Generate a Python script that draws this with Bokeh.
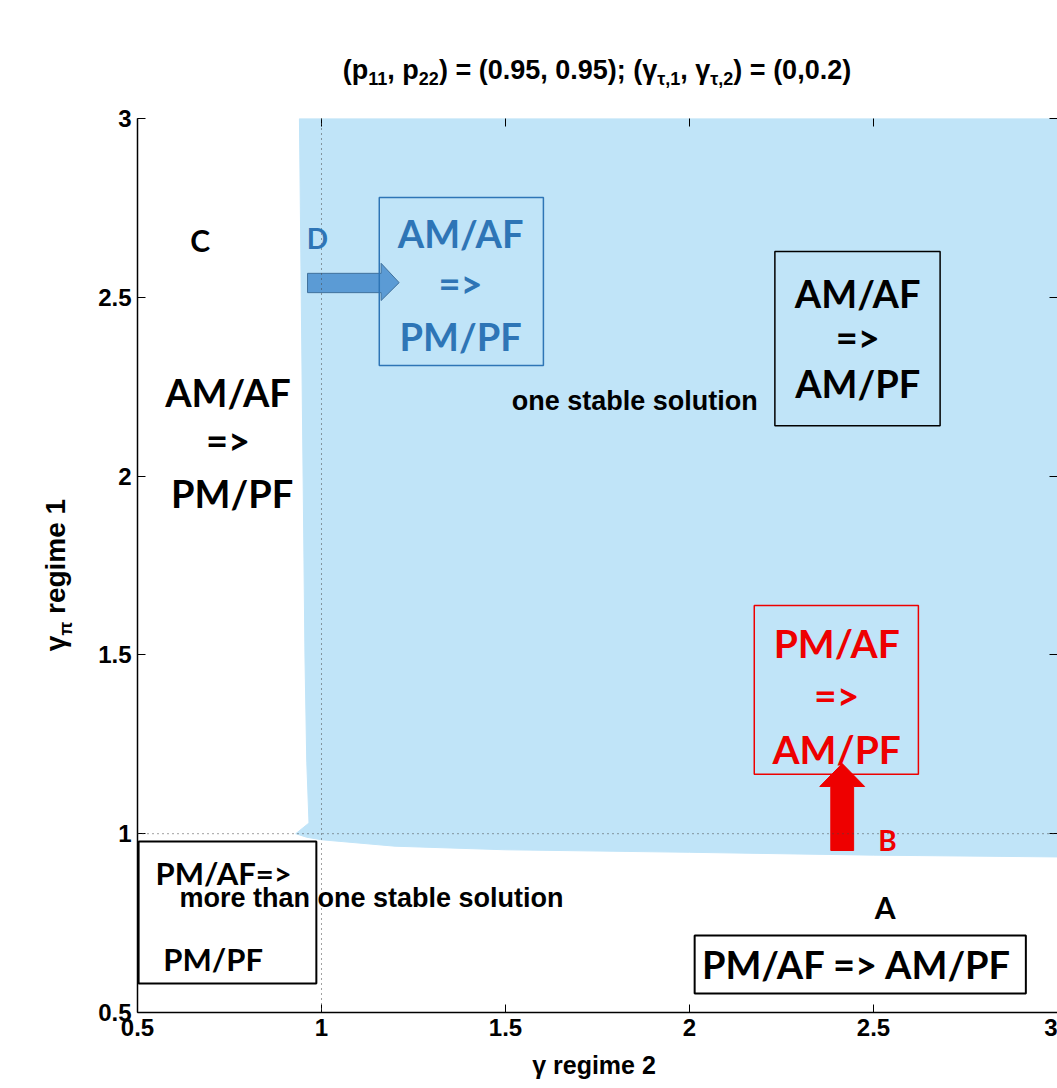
from bokeh.plotting import figure
from bokeh.models import Label, LinearAxis, Span, BoxAnnotation, FixedTicker, Range1d, Div
from bokeh.layouts import column, row
from bokeh.embed import file_html
from bokeh.resources import INLINE

# ---- data ----
tick_values = [0.5, 1.0, 1.5, 2.0, 2.5, 3.0]
tick_labels = ["0.5", "1", "1.5", "2", "2.5", "3"]
# boundary of the "one stable solution" region (gamma regime 2, gamma regime 1)
boundary_x = [0.940, 0.945, 0.950, 0.955, 0.960, 0.966, 0.930, 0.960, 1.000, 1.200, 1.500, 2.000, 2.500, 3.000, 3.000]
boundary_y = [3.000, 2.500, 2.000, 1.500, 1.200, 1.030, 1.000, 0.990, 0.983, 0.965, 0.955, 0.948, 0.940, 0.935, 3.000]
threshold_x = 1.0
threshold_y = 1.0

SANS = "Liberation Sans"
CAL = "Lato"
BLUE_REGION = "#C0E4F8"
BLUE_TXT = "#2E75B6"
RED = "#EE0000"

p = figure(width=977, height=988, x_range=Range1d(0.5, 3.0), y_range=Range1d(0.5, 3.0),
           output_backend="svg", toolbar_location=None,
           min_border_left=57, min_border_right=0, min_border_top=18, min_border_bottom=76)
p.margin = (0, 0, 0, 0)
p.outline_line_color = None
p.grid.visible = False
p.background_fill_color = "white"
p.border_fill_color = "white"

p.patch(boundary_x, boundary_y, fill_color=BLUE_REGION, line_color=BLUE_REGION, line_width=1)

p.add_layout(Span(location=threshold_x, dimension="height", line_dash="1 4", line_color="#444444", line_width=1))
p.add_layout(Span(location=threshold_y, dimension="width", line_dash="1 4", line_color="#444444", line_width=1))

ticker = FixedTicker(ticks=tick_values)
overrides = {v: l for v, l in zip(tick_values, tick_labels)}
for ax in (p.xaxis[0], p.yaxis[0]):
    ax.ticker = ticker
    ax.major_label_overrides = overrides
    ax.major_tick_in = 8
    ax.major_tick_out = 0
    ax.minor_tick_line_color = None
    ax.axis_line_width = 1.5
    ax.axis_line_color = "black"
    ax.major_tick_line_color = "black"
    ax.major_label_text_font = SANS
    ax.major_label_text_font_style = "bold"
    ax.major_label_text_font_size = "24px"
    ax.major_label_text_color = "black"
    ax.major_label_standoff = 6

p.xaxis[0].axis_label = "γ  regime 2"
p.xaxis[0].axis_label_text_font = SANS
p.xaxis[0].axis_label_text_font_style = "bold"
p.xaxis[0].axis_label_text_font_size = "25px"
p.xaxis[0].axis_label_text_color = "black"
p.xaxis[0].axis_label_standoff = 12

for loc in ("above", "right"):
    ax = LinearAxis(ticker=ticker, axis_line_color=None, major_tick_in=8, major_tick_out=0,
                    minor_tick_line_color=None, major_label_text_font_size="0px",
                    major_label_standoff=0, major_tick_line_color="black")
    ax.major_label_overrides = {v: "" for v in tick_values}
    p.add_layout(ax, loc)

def lab(x, y, text, size, color="black", font=CAL, align="center", baseline="middle"):
    p.add_layout(Label(x=x, y=y, text=text, text_font_size=f"{size}px", text_color=color,
                       text_font=font, text_font_style="bold", text_align=align,
                       text_baseline=baseline))

def box(l, r, b, t, color, w=1.5):
    p.add_layout(BoxAnnotation(left=l, right=r, bottom=b, top=t, fill_alpha=0, fill_color=None,
                               line_color=color, line_alpha=1.0, line_width=w))

# blue box + arrow D
box(1.157, 1.603, 2.309, 2.779, BLUE_TXT)
lab(1.378, 2.681, "AM/AF", 38, BLUE_TXT)
lab(1.378, 2.539, "=>", 38, BLUE_TXT)
lab(1.378, 2.393, "PM/PF", 38, BLUE_TXT)
lab(0.989, 2.667, "D", 28, BLUE_TXT)
p.patch([0.962, 1.162, 1.162, 1.211, 1.162, 1.162, 0.962],
        [2.513, 2.513, 2.491, 2.541, 2.595, 2.567, 2.567],
        fill_color="#5B9BD5", line_color="#41719C", line_width=1)

# right black box
box(2.232, 2.681, 2.141, 2.628, "black")
lab(2.457, 2.511, "AM/AF", 38)
lab(2.457, 2.388, "=>", 38)
lab(2.457, 2.259, "AM/PF", 38)
lab(1.851, 2.211, "one stable solution", 27, font=SANS)

# C and left text
lab(0.670, 2.659, "C", 30)
lab(0.746, 2.234, "AM/AF", 38)
lab(0.746, 2.100, "=>", 38)
lab(0.757, 1.954, "PM/PF", 38)

# red box + arrow B
box(2.176, 2.622, 1.166, 1.638, RED)
lab(2.400, 1.532, "PM/AF", 39, RED)
lab(2.400, 1.389, "=>", 39, RED)
lab(2.400, 1.238, "AM/PF", 39, RED)
lab(2.538, 0.981, "B", 28, RED)
p.patch([2.384, 2.446, 2.446, 2.476, 2.415, 2.354, 2.384],
        [0.953, 0.953, 1.132, 1.132, 1.196, 1.132, 1.132],
        fill_color=RED, line_color=RED, line_width=1)

# bottom-left box
box(0.503, 0.986, 0.581, 0.978, "black", 2)
lab(0.549, 0.889, "PM/AF=>", 31, align="left")
lab(0.614, 0.819, "more than one stable solution", 27, font=SANS, align="left")
lab(0.570, 0.651, "PM/PF", 31, align="left")

# bottom-right box
box(2.014, 2.914, 0.553, 0.715, "black", 2)
lab(2.468, 0.637, "PM/AF  => AM/PF", 38)
lab(2.532, 0.794, "A", 30)

FONT_CSS = "font-family:'Liberation Sans',Arial,sans-serif;font-weight:bold;color:black;white-space:nowrap;"
title_html = (
    '<div style="position:relative;width:1057px;height:100px;">'
    '<div style="position:absolute;left:597px;top:72px;transform:translate(-50%,-50%);'
    + FONT_CSS + 'font-size:27px;">'
    '(p<sub style="font-size:18px">11</sub>, p<sub style="font-size:18px">22</sub>) = (0.95, 0.95); '
    '(γ<sub style="font-size:18px">τ,1</sub>, γ<sub style="font-size:18px">τ,2</sub>) = (0,0.2)'
    '</div></div>'
)
title_div = Div(text=title_html, width=1057, height=100, margin=(0, 0, 0, 0))

ylab_html = (
    '<div style="position:relative;width:80px;height:988px;">'
    '<div style="position:absolute;left:58px;top:475px;transform:translate(-50%,-50%) rotate(-90deg);'
    + FONT_CSS + 'font-size:28px;">'
    'γ<sub style="font-size:18px">π</sub> regime 1'
    '</div></div>'
)
ylab_div = Div(text=ylab_html, width=80, height=988, margin=(0, 0, 0, 0))

layout = column(title_div, row(ylab_div, p, spacing=0, margin=(0, 0, 0, 0)), spacing=0, margin=(0, 0, 0, 0))
open("out.html", "w").write(file_html(layout, INLINE))
